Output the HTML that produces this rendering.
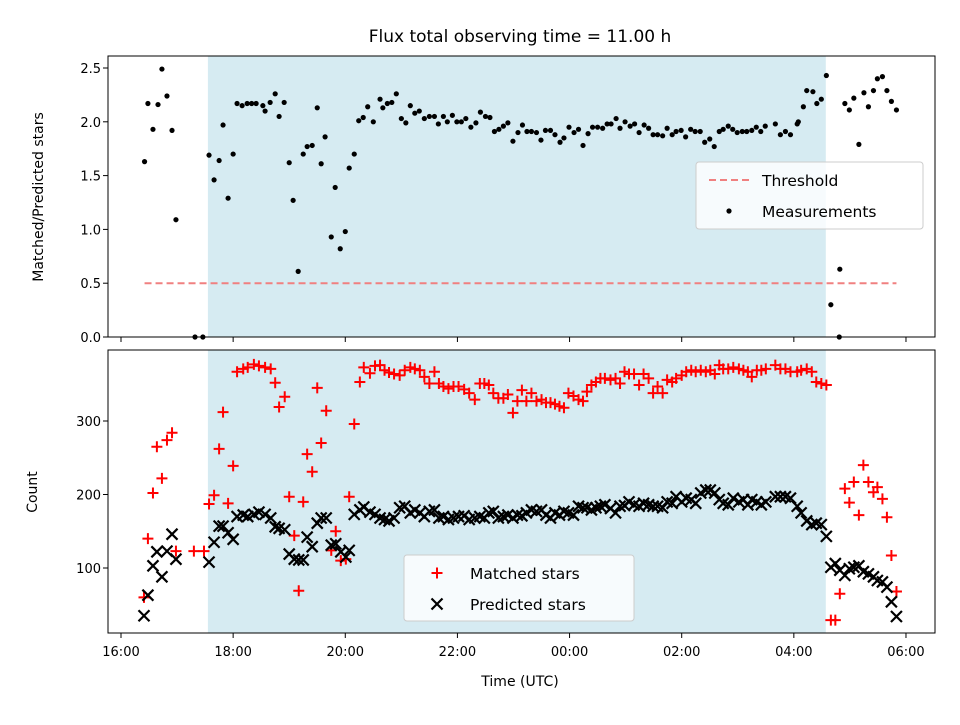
<!DOCTYPE html>
<html><head><meta charset="utf-8"><style>
body{margin:0;background:#fff;}
svg text{font-family:"DejaVu Sans","Liberation Sans",sans-serif;}
</style></head><body>
<svg id="chart" width="960" height="720" viewBox="0 0 960 720" xmlns="http://www.w3.org/2000/svg">
<rect width="960" height="720" fill="#fff"/>
<text x="520" y="42" font-size="17" text-anchor="middle">Flux total observing time = 11.00 h</text>
<g id="gtop"></g><g id="gbot"></g>
<text x="520" y="686" font-size="14" text-anchor="middle">Time (UTC)</text>
<text transform="translate(43,197) rotate(-90)" font-size="14" text-anchor="middle">Matched/Predicted stars</text>
<text transform="translate(37,492) rotate(-90)" font-size="14" text-anchor="middle">Count</text>
</svg>
<script>
const xTickLabels=["16:00","18:00","20:00","22:00","00:00","02:00","04:00","06:00"];
const shadeStart=1.55, shadeEnd=12.57;
const threshold=0.5;
const ratioTimes=[.42,.48,.57,.66,.73,.82,.91,.98,1.32,1.46,1.57,1.66,1.75,1.82,1.91,2.0,2.07,2.16,2.25,2.33,2.41,2.53,2.57,2.66,2.75,2.82,2.91,3.0,3.07,3.16,3.25,3.32,3.41,3.5,3.57,3.64,3.75,3.82,3.91,4.0,4.07,4.16,4.24,4.32,4.4,4.5,
4.62,4.67,4.75,4.83,4.91,5.00,5.08,5.16,5.24,5.32,5.41,5.50,5.59,5.66,5.75,5.82,5.91,5.99,6.07,6.15,6.24,6.33,6.41,6.50,6.58,6.66,6.74,6.82,6.90,6.99,7.08,7.16,7.24,7.32,7.41,7.49,7.57,7.66,7.74,7.83,7.90,7.99,8.08,8.16,8.24,8.33,8.41,8.50,8.59,8.67,8.74,8.83,8.90,8.99,9.08,9.16,9.24,9.33,9.41,9.49,9.57,9.66,9.74,9.83,9.90,9.99,10.07,10.16,10.24,10.33,10.41,10.50,10.58,10.67,10.74,10.83,10.91,10.99,11.08,11.16,11.25,11.33,11.41,11.49,11.67,11.76,11.85,11.94,12.06,12.08,12.17,12.23,12.34,12.41,12.49,12.58,12.66,12.82,12.81,12.91,12.99,13.07,13.16,13.25,13.33,13.42,13.49,13.58,13.66,13.74,13.83];
const ratioValues=[1.63,2.17,1.93,2.16,2.49,2.24,1.92,1.09,0,0,1.69,1.46,1.64,1.97,1.29,1.70,2.17,2.15,2.17,2.17,2.17,2.15,2.1,2.18,2.26,2.05,2.18,1.62,1.27,0.61,1.70,1.77,1.78,2.13,1.61,1.86,0.93,1.39,0.82,0.98,1.57,1.70,2.01,2.04,2.14,2.0,
2.21,2.13,2.17,2.18,2.26,2.03,1.99,2.15,2.08,2.1,2.03,2.05,2.05,1.98,2.05,2.0,2.06,2.0,2.0,2.03,1.95,1.99,2.09,2.05,2.04,1.91,1.93,1.96,1.99,1.82,1.9,1.97,1.91,1.91,1.9,1.83,1.92,1.92,1.88,1.81,1.85,1.95,1.9,1.93,1.78,1.89,1.95,1.95,1.94,1.98,1.98,2.03,1.94,2.0,1.96,1.98,1.9,1.97,1.94,1.88,1.88,1.87,1.94,1.88,1.91,1.92,1.86,1.93,1.91,1.91,1.81,1.84,1.77,1.91,1.93,1.96,1.93,1.9,1.91,1.91,1.92,1.95,1.91,1.96,1.98,1.88,1.91,1.88,1.98,2.0,2.14,2.29,2.28,2.17,2.21,2.43,0.3,0.63,0,2.17,2.11,2.22,1.79,2.27,2.14,2.29,2.4,2.42,2.29,2.19,2.11];
const countTimes=[.41,.48,.57,.64,.73,.82,.91,.98,1.30,1.48,1.57,1.66,1.75,1.82,1.91,2.0,2.07,2.18,2.26,2.37,2.46,2.57,2.67,2.75,2.82,2.92,3.0,3.09,3.17,3.25,3.32,3.41,3.5,3.57,3.66,3.75,3.83,3.92,4.01,4.07,4.16,4.26,4.33,4.44,4.53,
4.62,4.70,4.78,4.87,4.97,5.06,5.16,5.24,5.33,5.41,5.50,5.59,5.67,5.75,5.84,5.93,6.02,6.12,6.21,6.31,6.40,6.48,6.56,6.64,6.73,6.82,6.90,6.99,7.07,7.15,7.23,7.32,7.41,7.50,7.58,7.66,7.74,7.82,7.90,7.98,8.07,8.16,8.24,8.31,8.39,8.47,8.55,8.63,8.73,8.82,8.90,8.98,9.06,9.15,9.24,9.32,9.41,9.49,9.57,9.66,9.74,9.83,9.90,10.00,10.08,10.17,10.25,10.34,10.43,10.51,10.59,10.67,10.74,10.83,10.92,11.02,11.10,11.18,11.25,11.34,11.42,11.50,11.67,11.76,11.85,11.94,12.06,12.13,12.23,12.32,12.40,12.49,12.58,
12.66,12.74,12.82,12.91,12.99,13.07,13.16,13.24,13.33,13.42,13.49,13.58,13.66,13.74,13.83];
const matchedValues=[60,140,202,265,222,274,284,123,123,123,187,199,262,312,188,239,367,371,373,377,375,373,371,352,319,333,197,144,69,190,255,231,345,270,314,124,150,110,112,197,296,353,373,365,375,
376,369,366,364,362,369,373,371,369,360,351,367,351,347,344,347,347,343,338,329,351,351,349,338,331,331,336,311,327,342,327,338,327,329,325,325,323,320,318,338,334,329,327,340,349,353,358,358,356,358,351,367,364,364,349,364,358,338,347,338,356,353,358,362,367,369,367,369,367,369,364,376,371,371,373,371,369,367,360,369,369,371,376,371,371,367,367,369,371,367,353,351,349,
29,29,65,208,189,217,172,240,217,203,210,194,169,117,68];
const predictedValues=[35,63,103,122,88,123,146,112,null,null,108,135,157,157,148,139,170,172,170,173,176,173,168,156,154,152,119,112,111,111,142,129,161,168,168,131,133,122,115,124,173,179,183,176,173,
168,166,164,168,182,184,175,179,175,170,177,179,168,170,166,168,170,171,166,168,170,168,175,177,168,170,172,168,172,171,175,179,177,179,172,168,175,172,177,175,172,184,182,182,179,182,184,186,181,175,184,185,190,186,184,188,186,184,184,182,190,188,197,190,195,193,188,202,206,206,202,193,188,186,195,190,193,186,193,190,186,190,197,197,197,195,184,175,164,159,161,159,143,
101,106,97,90,99,101,103,95,92,88,83,81,74,54,34];
const ratioTicks=[0,0.5,1.0,1.5,2.0,2.5];
const countTicks=[100,200,300];

const NS="http://www.w3.org/2000/svg";
const L=108,R=935;
const X=t=>121+56.07*t;
const TT=56,TB=337, BT=350, BB=633;
const Yr=v=>337-107.6*v;
const Yc=c=>421-(c-300)*0.735;
function mk(p,tag,a){const e=document.createElementNS(NS,tag);for(const k in a)e.setAttribute(k,a[k]);p.appendChild(e);return e;}
const gTop=document.getElementById('gtop'), gBot=document.getElementById('gbot');

function panel(g,y0,y1,name){
  const s=mk(g,'rect',{x:X(shadeStart),y:y0,width:X(shadeEnd)-X(shadeStart),height:y1-y0,fill:'#add8e6','fill-opacity':0.5});
  
  
}
panel(gTop,TT,TB,'top');
panel(gBot,BT,BB,'bottom');

const th=mk(gTop,'line',{x1:X(ratioTimes[0]),x2:X(ratioTimes[ratioTimes.length-1]),y1:Yr(threshold),y2:Yr(threshold),stroke:'#f08080','stroke-width':2,'stroke-dasharray':'7,4'});



ratioTimes.forEach((t,i)=>{
  const c=mk(gTop,'circle',{cx:X(t),cy:Yr(ratioValues[i]),r:2.6,fill:'#000'});
  
  
});
countTimes.forEach((t,i)=>{
  const m=matchedValues[i];
  if(m!=null){const x=X(t),y=Yc(m);
    const p=mk(gBot,'path',{d:`M${x-5.5},${y}H${x+5.5}M${x},${y-5.5}V${y+5.5}`,stroke:'#f00','stroke-width':2,fill:'none'});
    
    }
});
countTimes.forEach((t,i)=>{
  const m=predictedValues[i];
  if(m!=null){const x=X(t),y=Yc(m);
    const p=mk(gBot,'path',{d:`M${x-5.5},${y-5.5}L${x+5.5},${y+5.5}M${x-5.5},${y+5.5}L${x+5.5},${y-5.5}`,stroke:'#000','stroke-width':2.2,fill:'none'});
    
    }
});

[[gTop,TT,TB],[gBot,BT,BB]].forEach(([g,y0,y1],k)=>{
  const f=mk(g,'rect',{x:L,y:y0,width:R-L,height:y1-y0,fill:'none',stroke:'#000','stroke-width':1});
  
  
  xTickLabels.forEach((lab,i)=>{
    const x=X(2*i);
    mk(g,'line',{x1:x,x2:x,y1:y1,y2:y1+5,stroke:'#000'});
    if(k){const tx=mk(g,'text',{x:x,y:y1+23,'font-size':13,'text-anchor':'middle'});tx.textContent=lab;
      
      }
  });
});
ratioTicks.forEach(v=>{
  const y=Yr(v);mk(gTop,'line',{x1:L-5,x2:L,y1:y,y2:y,stroke:'#000'});
  const tx=mk(gTop,'text',{x:L-7,y:y+5,'font-size':13,'text-anchor':'end'});tx.textContent=v.toFixed(1);
  
  
});
countTicks.forEach(v=>{
  const y=Yc(v);mk(gBot,'line',{x1:L-5,x2:L,y1:y,y2:y,stroke:'#000'});
  const tx=mk(gBot,'text',{x:L-7,y:y+5,'font-size':13,'text-anchor':'end'});tx.textContent=v;
  
  
});

function legend(g,x,y,w,h,items,name){
  const b=mk(g,'rect',{x:x,y:y,width:w,height:h,rx:3,fill:'#fff','fill-opacity':0.8,stroke:'#ccc'});
  
  
  items.forEach((it,i)=>{
    const cy=y+18+i*31, cx=x+33;
    if(it[0]=='dash') mk(g,'line',{x1:cx-20,x2:cx+20,y1:cy,y2:cy,stroke:'#f08080','stroke-width':2,'stroke-dasharray':'7,4'});
    if(it[0]=='dot') mk(g,'circle',{cx:cx,cy:cy,r:2.6,fill:'#000'});
    if(it[0]=='plus') mk(g,'path',{d:`M${cx-5.5},${cy}H${cx+5.5}M${cx},${cy-5.5}V${cy+5.5}`,stroke:'#f00','stroke-width':2});
    if(it[0]=='x') mk(g,'path',{d:`M${cx-5.5},${cy-5.5}L${cx+5.5},${cy+5.5}M${cx-5.5},${cy+5.5}L${cx+5.5},${cy-5.5}`,stroke:'#000','stroke-width':2.2});
    const t=mk(g,'text',{x:x+66,y:cy+6,'font-size':15.5});t.textContent=it[1];
    
    
  });
}
legend(gTop,696,162,227,67,[['dash','Threshold'],['dot','Measurements']],'top-legend');
legend(gBot,404,555,230,66,[['plus','Matched stars'],['x','Predicted stars']],'bottom-legend');
</script>
</body></html>
